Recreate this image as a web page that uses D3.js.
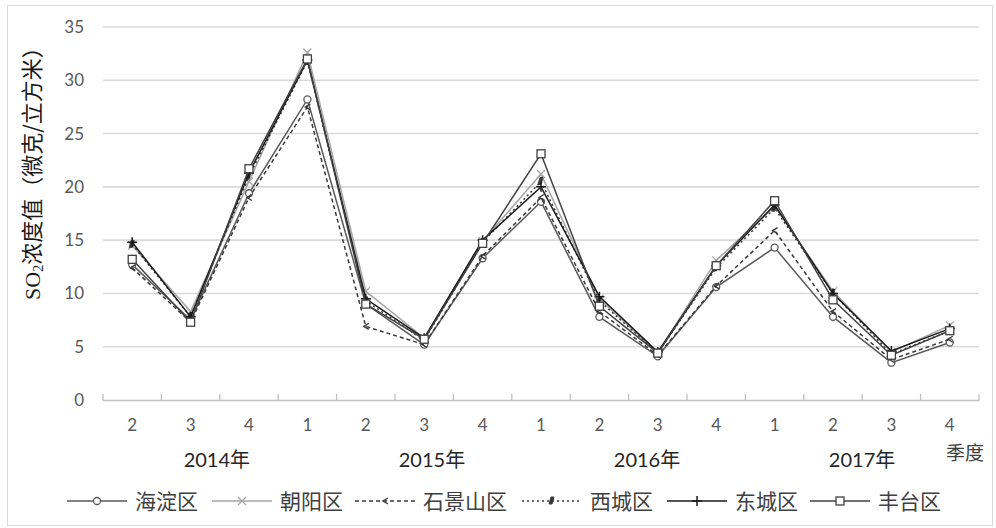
<!DOCTYPE html>
<html>
<head>
<meta charset="utf-8">
<script src="https://cdn.jsdelivr.net/npm/d3@7/dist/d3.min.js"></script>
<style>
  html, body { margin: 0; padding: 0; background: #fff; }
  svg { display: block; }
</style>
</head>
<body>
<svg id="chart" width="996" height="528"></svg>
<script>
// Quarterly SO2 concentration by district, 2014 Q2 – 2017 Q4
const quarters = ["2", "3", "4", "1", "2", "3", "4", "1", "2", "3", "4", "1", "2", "3", "4"];
const years = ["2014年", "2015年", "2016年", "2017年"];
const yTicks = [0, 5, 10, 15, 20, 25, 30, 35];

const haidian     = [12.7, 7.5, 19.4, 28.2, 9.0, 5.2, 13.3, 18.6, 7.8, 4.1, 10.6, 14.3, 7.8, 3.5, 5.4];
const chaoyang    = [14.5, 8.3, 20.5, 32.6, 10.2, 5.8, 14.9, 21.2, 9.5, 4.4, 13.1, 18.2, 10.2, 4.5, 7.0];
const shijingshan = [12.4, 7.3, 19.0, 27.5, 6.9, 5.2, 13.5, 19.0, 8.3, 4.2, 10.7, 15.9, 8.3, 3.8, 5.7];
const xicheng     = [14.6, 7.8, 21.0, 31.8, 9.3, 5.6, 14.8, 20.5, 9.3, 4.4, 12.4, 18.0, 10.0, 4.3, 6.5];
const dongcheng   = [14.8, 7.8, 21.3, 31.9, 9.5, 5.8, 15.0, 20.0, 9.7, 4.5, 12.6, 18.3, 10.0, 4.6, 6.7];
const fengtai     = [13.2, 7.3, 21.7, 32.0, 9.0, 5.7, 14.7, 23.1, 8.8, 4.4, 12.6, 18.7, 9.4, 4.2, 6.5];

const seriesNames = ["海淀区", "朝阳区", "石景山区", "西城区", "东城区", "丰台区"];
const seriesValues = [haidian, chaoyang, shijingshan, xicheng, dongcheng, fengtai];

const styles = [
  { color: "#595959", dash: null,    marker: "circle" },
  { color: "#a6a6a6", dash: null,    marker: "cross" },
  { color: "#3a3a3a", dash: "4,3",   marker: "chevron" },
  { color: "#3a3a3a", dash: "2,3",   marker: "triangle" },
  { color: "#1a1a1a", dash: null,    marker: "plus" },
  { color: "#404040", dash: null,    marker: "square" }
];

const svg = d3.select("#chart");
const plot = { left: 103, right: 979, top: 27, bottom: 400 };

// Outer chart frame
svg.append("rect")
  .attr("x", 7.5).attr("y", 5.5).attr("width", 985).attr("height", 520)
  .attr("fill", "#fff").attr("stroke", "#d9d9d9").attr("stroke-width", 1);

const x = d3.scaleBand()
  .domain(d3.range(quarters.length))
  .range([plot.left, plot.right])
  .padding(0);
const cx = i => x(i) + x.bandwidth() / 2;

const y = d3.scaleLinear().domain([0, 35]).range([plot.bottom, plot.top]);

// Horizontal gridlines
svg.append("g")
  .selectAll("line")
  .data(yTicks.filter(t => t > 0))
  .join("line")
  .attr("x1", plot.left).attr("x2", plot.right)
  .attr("y1", d => y(d)).attr("y2", d => y(d))
  .attr("stroke", "#d9d9d9").attr("stroke-width", 1.6);

// Y axis labels
const yAxis = d3.axisLeft(y).tickValues(yTicks).tickSize(0).tickPadding(19);
const yg = svg.append("g").attr("transform", `translate(${plot.left},0)`).call(yAxis);
yg.select(".domain").remove();
yg.selectAll("text")
  .attr("font-family", "Lato, 'Open Sans', sans-serif")
  .attr("font-size", 17).attr("fill", "#595959");

// Category axis line with inward boundary ticks
svg.append("line")
  .attr("x1", plot.left).attr("x2", plot.right)
  .attr("y1", plot.bottom + 0.5).attr("y2", plot.bottom + 0.5)
  .attr("stroke", "#bfbfbf").attr("stroke-width", 1.5);
svg.append("g")
  .selectAll("line")
  .data(d3.range(quarters.length + 1))
  .join("line")
  .attr("x1", i => i < quarters.length ? x(i) : plot.right)
  .attr("x2", i => i < quarters.length ? x(i) : plot.right)
  .attr("y1", plot.bottom + 0.5).attr("y2", plot.bottom - 6)
  .attr("stroke", "#bfbfbf").attr("stroke-width", 1.3);

// Quarter labels
const xAxis = d3.axisBottom(x).tickSize(0).tickPadding(19).tickFormat(i => quarters[i]);
const xg = svg.append("g").attr("transform", `translate(0,${plot.bottom})`).call(xAxis);
xg.select(".domain").remove();
xg.selectAll("text")
  .attr("font-family", "Lato, 'Open Sans', sans-serif")
  .attr("font-size", 17).attr("fill", "#595959");

// Year labels
const plotW = plot.right - plot.left;
svg.append("g")
  .selectAll("text")
  .data(years)
  .join("text")
  .attr("x", (d, k) => plot.left + plotW * (0.13 + 0.2455 * k))
  .attr("y", 467)
  .attr("text-anchor", "middle")
  .attr("font-family", "Lato, 'Noto Sans CJK SC', sans-serif")
  .attr("font-size", 20).attr("fill", "#262626")
  .text(d => d);

// Axis caption for the category axis
svg.append("text")
  .attr("x", 965).attr("y", 460)
  .attr("text-anchor", "middle")
  .attr("font-family", "'Noto Sans CJK SC', sans-serif")
  .attr("font-size", 19).attr("fill", "#404040")
  .text("季度");

// Y axis title
const yTitle = svg.append("text")
  .attr("transform", "translate(40,168) rotate(-90)")
  .attr("text-anchor", "middle")
  .attr("font-family", "'Liberation Serif', 'Noto Sans CJK SC', serif")
  .attr("font-size", 22).attr("fill", "#1a1a1a");
yTitle.append("tspan").text("SO");
yTitle.append("tspan").attr("font-size", 14).attr("dy", 3).text("2");
yTitle.append("tspan").attr("dy", -3).attr("font-family", "'Noto Sans CJK SC', sans-serif").text("浓度值（微克/立方米）");

// Marker drawing
function drawMarker(g, type, color) {
  switch (type) {
    case "circle":
      g.append("circle").attr("r", 3.5).attr("fill", "#fff").attr("stroke", color).attr("stroke-width", 1.3);
      break;
    case "cross":
      g.append("path").attr("d", "M-4,-4L4,4M-4,4L4,-4").attr("stroke", color).attr("stroke-width", 1.3).attr("fill", "none");
      break;
    case "chevron":
      g.append("path").attr("d", "M3,-3L-2,0L3,3").attr("stroke", color).attr("stroke-width", 1.4).attr("fill", "none");
      break;
    case "triangle":
      g.append("path").attr("d", "M-1,-4L2,-4L0,3L-3,3Z").attr("fill", color).attr("stroke", color).attr("stroke-width", 1);
      break;
    case "plus":
      g.append("path").attr("d", "M-5,0L5,0M0,-5L0,5").attr("stroke", color).attr("stroke-width", 1.5).attr("fill", "none");
      break;
    case "square":
      g.append("rect").attr("x", -4).attr("y", -4).attr("width", 8).attr("height", 8)
        .attr("fill", "#fff").attr("stroke", color).attr("stroke-width", 1.3);
      break;
  }
}

const line = d3.line().x((d, i) => cx(i)).y(d => y(d));

seriesValues.forEach((vals, s) => {
  const st = styles[s];
  const g = svg.append("g");
  g.append("path")
    .attr("d", line(vals))
    .attr("fill", "none")
    .attr("stroke", st.color)
    .attr("stroke-width", 1.5)
    .attr("stroke-dasharray", st.dash);
  vals.forEach((v, i) => {
    const m = g.append("g").attr("transform", `translate(${cx(i)},${y(v)})`);
    drawMarker(m, st.marker, st.color);
  });
});

// Legend
const legendX = [67, 212, 355, 522, 667, 810];
const legend = svg.append("g");
seriesNames.forEach((name, s) => {
  const st = styles[s];
  const lx = legendX[s];
  const ly = 501;
  const item = legend.append("g");
  item.append("line")
    .attr("x1", lx).attr("x2", lx + 60).attr("y1", ly).attr("y2", ly)
    .attr("stroke", st.color).attr("stroke-width", 1.5)
    .attr("stroke-dasharray", st.dash);
  drawMarker(item.append("g").attr("transform", `translate(${lx + 30},${ly})`), st.marker, st.color);
  item.append("text")
    .attr("x", lx + 68).attr("y", ly + 7.5)
    .attr("font-family", "'Noto Sans CJK SC', sans-serif")
    .attr("font-size", 21).attr("fill", "#404040")
    .text(name);
});
</script>
</body>
</html>
